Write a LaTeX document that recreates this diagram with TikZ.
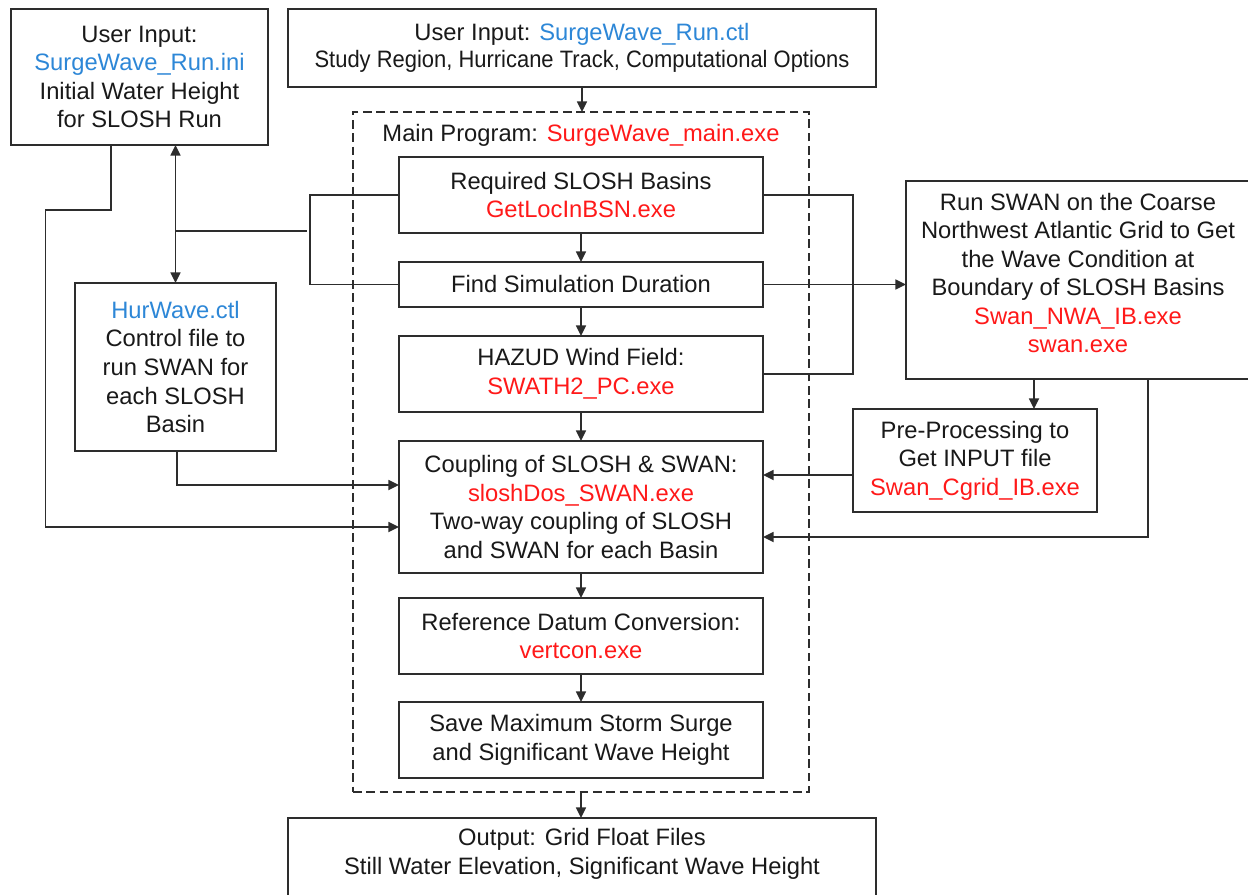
\documentclass[tikz,border=0pt]{standalone}
\usepackage{fontspec}
\setmainfont{Liberation Sans}
\usetikzlibrary{arrows.meta,calc}

\definecolor{filecol}{RGB}{45,135,215}
\definecolor{execol}{RGB}{255,25,25}
\definecolor{linecol}{RGB}{45,45,45}
\definecolor{textcol}{RGB}{25,25,25}
\newcommand{\fname}[1]{\textcolor{filecol}{#1}}
\newcommand{\ename}[1]{\textcolor{execol}{#1}}
% one drawing unit in pt
\newcommand{\pxu}{0.75pt}

\begin{document}
\begin{tikzpicture}[x=0.75pt,y=-0.75pt,
  every node/.style={font=\fontsize{17.8}{21.4}\selectfont, text=textcol},
  box/.style 2 args={draw=linecol, line width=1.25pt, fill=white, inner sep=0pt,
    outer sep=0pt, align=center, minimum width=#1*\pxu, minimum height=#2*\pxu},
  frame/.style 2 args={draw=linecol, line width=1.05pt, dash pattern=on 6.5pt off 3.5pt,
    inner sep=0pt, outer sep=0pt, minimum width=#1*\pxu, minimum height=#2*\pxu},
  label/.style={align=center, inner sep=0pt},
  link/.style={draw=linecol, line width=1.25pt},
  arr/.style={link, -{Triangle[length=8pt,width=7.5pt]}},
  dblarr/.style={link, {Triangle[length=8pt,width=7.5pt]}-{Triangle[length=8pt,width=7.5pt]}},
]
\useasboundingbox (0,0) rectangle (1248,894);

% inputs
\node[box={257}{136}] (ini) at (139.5,77)
  {User Input:\\\fname{SurgeWave\_Run.ini}\\Initial Water Height\\for SLOSH Run};
\node[box={588}{78}] (ctl) at (582,48)
  {User Input: \fname{SurgeWave\_Run.ctl}\\[-1pt]\scalebox{0.925}[1]{Study Region, Hurricane Track, Computational Options}};
\node[box={201}{168}] (hur) at (175.5,367)
  {\fname{HurWave.ctl}\\Control file to\\run SWAN for\\each SLOSH\\Basin};

% main program frame
\node[frame={456}{680}] (main) at (581,452) {};
\node[label] (maintitle) at (581,135) {Main Program: \ename{SurgeWave\_main.exe}};

\node[box={364}{76}] (basins) at (581,195)
  {Required SLOSH Basins\\\ename{GetLocInBSN.exe}};
\node[box={364}{45}] (dur) at (581,284.5) {Find Simulation Duration};
\node[box={364}{76}] (wind) at (581,374)
  {HAZUD Wind Field:\\\ename{SWATH2\_PC.exe}};
\node[box={364}{132}] (couple) at (581,507)
  {Coupling of SLOSH \& SWAN:\\\ename{sloshDos\_SWAN.exe}\\Two-way coupling of SLOSH\\and SWAN for each Basin};
\node[box={364}{76}] (datum) at (581,636)
  {Reference Datum Conversion:\\\ename{vertcon.exe}};
\node[box={364}{76}] (save) at (581,740)
  {Save Maximum Storm Surge\\and Significant Wave Height};

% SWAN on the coarse grid
\node[box={344}{198}] (swan) at (1078,280) {};
\node[label] (swantext) at (1078,273)
  {Run SWAN on the Coarse\\Northwest Atlantic Grid to Get\\the Wave Condition at\\Boundary of SLOSH Basins\\\ename{Swan\_NWA\_IB.exe}\\\ename{swan.exe}};
\node[box={244}{103}] (pre) at (975,460.5)
  {Pre-Processing to\\Get INPUT file\\\ename{Swan\_Cgrid\_IB.exe}};

% output
\node[box={588}{100}] (out) at (582,868) {};
\node[label] (outtext) at (582,854)
  {Output: Grid Float Files\\Still Water Elevation, Significant Wave Height};

% main chain
\draw[arr] (ctl.south) -- (ctl.south |- main.north);
\draw[arr] (basins) -- (dur);
\draw[arr] (dur) -- (wind);
\draw[arr] (wind) -- (couple);
\draw[arr] (couple) -- (datum);
\draw[arr] (datum) -- (save);
\draw[arr] (main.south) -- (main.south |- out.north);

% left side
\draw[arr] ([xshift=-28.5*\pxu]ini.south) -- ++(0,65) -- ++(-65.5,0)
  |- ([yshift=-20*\pxu]couple.west);
\draw[dblarr] (ini.south -| hur.north) -- (hur.north);
\draw[link] ([yshift=52*\pxu]hur.north) -- ++(131.5,0);
\draw[link] (basins.west) -- ++(-89,0) |- (dur.west);
\draw[arr] ([xshift=1.5*\pxu]hur.south) |- ([yshift=22*\pxu]couple.west);

% right side
\draw[link] (basins.east) -- ++(90,0) |- (wind.east);
\draw[arr] (dur.east) -- (dur.east -| swan.west);
\draw[arr] ([xshift=59*\pxu]pre.north) ++(0,-30) -- ([xshift=59*\pxu]pre.north);
\draw[arr] (pre.west) ++(0,14.5) -- ++(-90,0);
\draw[arr] ([xshift=70*\pxu]swan.south) |- ([yshift=-30*\pxu]couple.east);
\end{tikzpicture}
\end{document}
